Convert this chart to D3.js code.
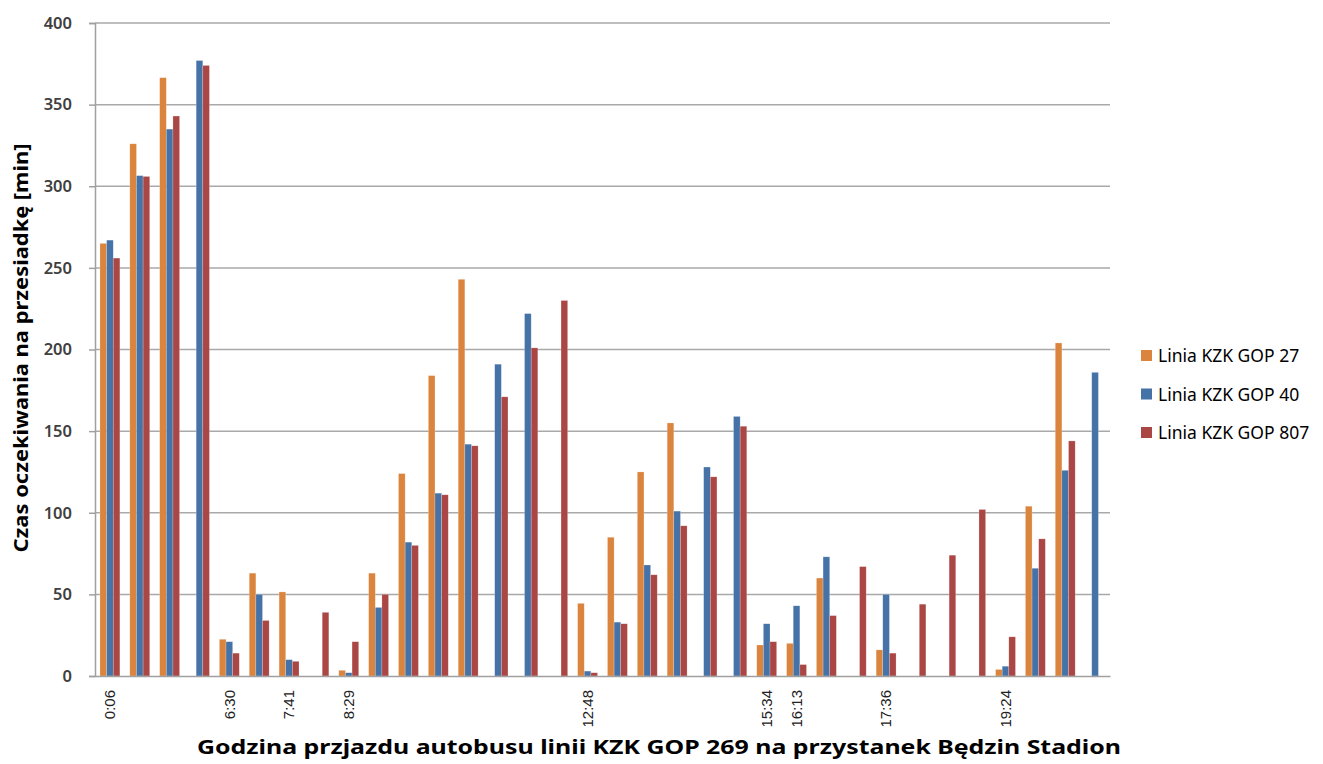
<!DOCTYPE html>
<html>
<head>
<meta charset="utf-8">
<script src="https://cdn.jsdelivr.net/npm/d3@7"></script>
<style>
  body { margin: 0; background: #fff; }
  svg { display: block; }
</style>
</head>
<body>
<svg id="chart" width="1323" height="764"></svg>
<script>
// Category tick labels (only some departures are labelled)
const timeLabels = ["0:06", "", "", "", "6:30", "", "7:41", "", "8:29", "", "", "", "", "", "", "",
  "12:48", "", "", "", "", "", "15:34", "16:13", "", "", "17:36", "", "", "", "19:24", "", "", ""];

const seriesNames = ["Linia KZK GOP 27", "Linia KZK GOP 40", "Linia KZK GOP 807"];
const seriesColors = ["#DB843D", "#4572A7", "#AA4643"];

const line27 = [265, 326, 366.5, null, 22.5, 63, 51.5, null, 3.5, 63, 124, 184, 243, null, null, null,
  44.5, 85, 125, 155, null, null, 19, 20, 60, null, 16, null, null, null, 4, 104, 204, null];
const line40 = [267, 306.5, 335, 377, 21, 50, 10, null, 2, 42, 82, 112, 142, 191, 222, null,
  3, 33, 68, 101, 128, 159, 32, 43, 73, null, 50, null, null, null, 6, 66, 126, 186];
const line807 = [256, 306, 343, 374, 14, 34, 9, 39, 21, 50, 80, 111, 141, 171, 201, 230,
  2, 32, 62, 92, 122, 153, 21, 7, 37, 67, 14, 44, 74, 102, 24, 84, 144, null];

const yTicks = [0, 50, 100, 150, 200, 250, 300, 350, 400];

const seriesValues = [line27, line40, line807];
const groups = timeLabels.map((label, i) => ({
  index: i,
  label: label,
  values: seriesValues.map((s, k) => ({ key: k, value: s[i] }))
}));

const svg = d3.select("#chart");
const margin = { left: 95, right: 213, top: 23, bottom: 88 };
const innerWidth = 1323 - margin.left - margin.right;
const innerHeight = 764 - margin.top - margin.bottom;

const g = svg.append("g").attr("transform", `translate(${margin.left},${margin.top})`);

const xScale = d3.scaleBand()
  .domain(groups.map(d => d.index))
  .range([0, innerWidth])
  .padding(0);

const xInner = d3.scaleBand()
  .domain([0, 1, 2])
  .range([0, xScale.bandwidth()])
  .paddingInner(0)
  .paddingOuter(0.75);

const yScale = d3.scaleLinear()
  .domain([0, 400])
  .range([innerHeight, 0]);

// Gridlines
g.append("g")
  .selectAll("line")
  .data(yTicks.slice(1))
  .join("line")
    .attr("x1", 0)
    .attr("x2", innerWidth)
    .attr("y1", d => yScale(d))
    .attr("y2", d => yScale(d))
    .attr("stroke", "#a9a9a9")
    .attr("stroke-width", 1.5);

// Bars
g.append("g")
  .selectAll("g")
  .data(groups)
  .join("g")
    .attr("transform", d => `translate(${xScale(d.index)},0)`)
  .selectAll("rect")
  .data(d => d.values.filter(v => v.value !== null))
  .join("rect")
    .attr("x", d => xInner(d.key))
    .attr("width", xInner.bandwidth())
    .attr("y", d => yScale(d.value))
    .attr("height", d => innerHeight - yScale(d.value))
    .attr("fill", d => seriesColors[d.key])
    .attr("stroke", "#fff")
    .attr("stroke-opacity", 0.35)
    .attr("stroke-width", 0.6);

// Y axis
const yAxis = g.append("g")
  .call(d3.axisLeft(yScale).tickValues(yTicks).tickSize(6).tickPadding(17));
yAxis.select(".domain").attr("stroke", "#a0a0a0").attr("stroke-width", 1.5);
yAxis.selectAll(".tick line").attr("stroke", "#a0a0a0").attr("stroke-width", 1.5);
yAxis.selectAll(".tick text")
  .attr("font-family", "'Noto Sans', sans-serif")
  .attr("font-size", 16.5)
  .attr("font-weight", 600)
  .attr("fill", "#404040");

// X axis: only the labelled departures get a tick label
const labelled = groups.filter(d => d.label !== "").map(d => d.index);
const xAxis = g.append("g")
  .attr("transform", `translate(0,${innerHeight})`)
  .call(d3.axisBottom(xScale).tickSize(0).tickValues(labelled).tickFormat(i => timeLabels[i]));
xAxis.select(".domain").attr("stroke", "#a0a0a0").attr("stroke-width", 1.5);
xAxis.selectAll(".tick text")
  .attr("font-family", "'Liberation Sans', Arial, sans-serif")
  .attr("font-size", 15)
  .attr("fill", "#222")
  .attr("transform", "rotate(-90)")
  .attr("text-anchor", "end")
  .attr("dy", "0.35em")
  .attr("x", -14)
  .attr("y", 0);

// Axis titles
svg.append("text")
  .attr("x", 659)
  .attr("y", 754)
  .attr("text-anchor", "middle")
  .attr("font-family", "'Noto Sans', sans-serif")
  .attr("font-weight", 700)
  .attr("font-size", 19)
  .attr("textLength", 924)
  .attr("lengthAdjust", "spacingAndGlyphs")
  .attr("fill", "#000")
  .text("Godzina przjazdu autobusu linii KZK GOP 269 na przystanek Będzin Stadion");

svg.append("text")
  .attr("transform", "translate(28,348) rotate(-90)")
  .attr("text-anchor", "middle")
  .attr("font-family", "'Noto Sans', sans-serif")
  .attr("font-weight", 700)
  .attr("font-size", 19)
  .attr("textLength", 409)
  .attr("lengthAdjust", "spacingAndGlyphs")
  .attr("fill", "#000")
  .text("Czas oczekiwania na przesiadkę [min]");

// Legend
const legend = svg.append("g")
  .attr("transform", "translate(1141,356)")
  .selectAll("g")
  .data(seriesNames)
  .join("g")
    .attr("transform", (d, i) => `translate(0,${i * 38.5})`);

legend.append("rect")
  .attr("x", 0)
  .attr("y", -6)
  .attr("width", 11)
  .attr("height", 11)
  .attr("fill", (d, i) => seriesColors[i]);

legend.append("text")
  .attr("x", 17)
  .attr("y", 0)
  .attr("dy", "0.35em")
  .attr("font-family", "'Noto Sans', sans-serif")
  .attr("font-size", 17.5)
  .attr("fill", "#000")
  .text(d => d);
</script>
</body>
</html>
